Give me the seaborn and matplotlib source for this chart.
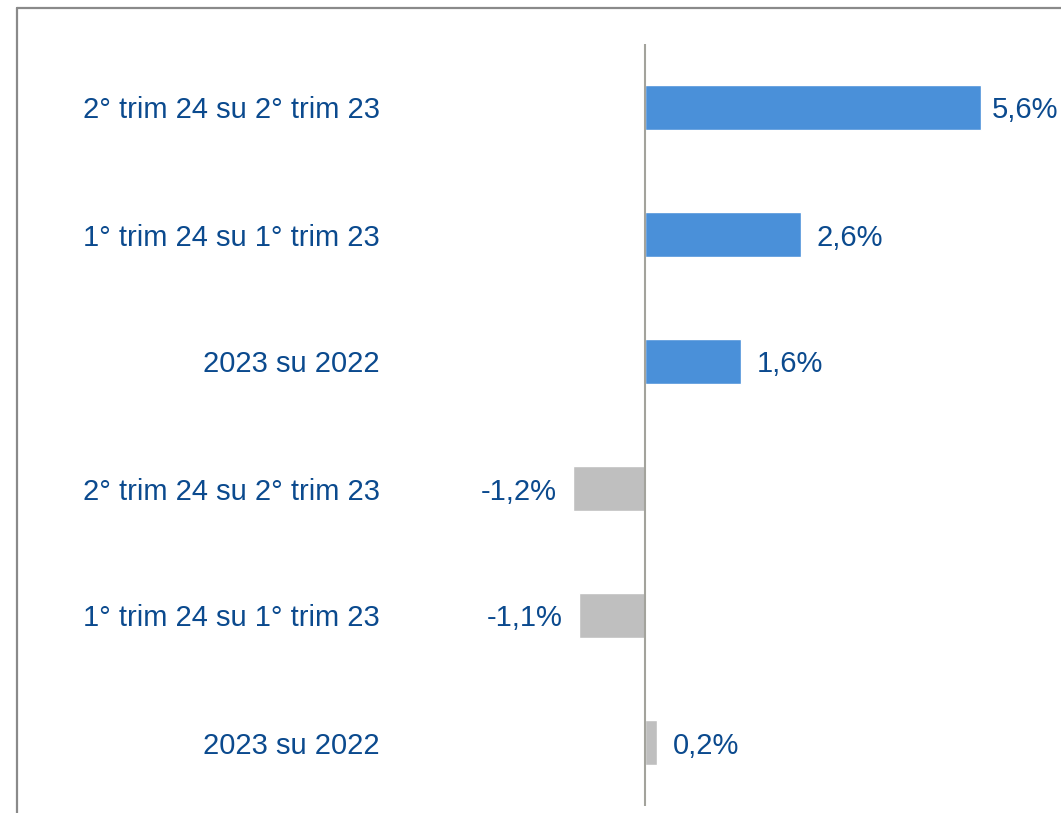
import matplotlib
matplotlib.use("Agg")
import matplotlib.pyplot as plt
from matplotlib.lines import Line2D
import seaborn as sns
import pandas as pd

# Variazioni percentuali
labels = ["2° trim 24 su 2° trim 23", "1° trim 24 su 1° trim 23", "2023 su 2022",
          "2° trim 24 su 2° trim 23", "1° trim 24 su 1° trim 23", "2023 su 2022"]
values = [5.6, 2.6, 1.6, -1.2, -1.1, 0.2]
groups = ["a", "a", "a", "b", "b", "b"]
value_text = ["5,6%", "2,6%", "1,6%", "-1,2%", "-1,1%", "0,2%"]

palette = {"a": "#4a90d9", "b": "#bfbfbf"}
text_color = "#0b4a8e"
fs = 21

sns.set_theme(style="white")
plt.rcParams["font.family"] = ["Liberation Sans", "DejaVu Sans"]

W, H = 1061, 813
fig = plt.figure(figsize=(W / 100, H / 100), dpi=100)
fig.patch.set_facecolor("white")

# axes placed in pixel units: x 400..1061, y 44..806 (from top); zero at x=645
ax = fig.add_axes([400 / W, 1 - 806 / H, (W - 400) / W, 762 / H])

df = pd.DataFrame({"row": [str(i) for i in range(len(values))],
                   "value": values, "group": groups})
sns.barplot(data=df, x="value", y="row", hue="group", palette=palette,
            dodge=False, width=0.36, legend=False, ax=ax, saturation=1)

ax.set_xlim(-245 / 60, (W - 645) / 60)
ax.set_ylim(5.5, -0.5)
ax.axvline(0, color="#a3a39c", lw=1.5, zorder=3)

for s in ax.spines.values():
    s.set_visible(False)
ax.set_xticks([])
ax.set_xlabel("")
ax.set_ylabel("")
ax.set_yticks(range(len(labels)))
ax.set_yticklabels(labels, fontsize=fs, color=text_color)
ax.tick_params(axis="y", length=0, pad=14.5)

for i, (v, t) in enumerate(zip(values, value_text)):
    if v >= 0:
        off = 7.5 if v > 5 else 11.5
        ax.annotate(t, (v, i), xytext=(off, 0), textcoords="offset points",
                    ha="left", va="center_baseline", fontsize=fs, color=text_color)
    else:
        ax.annotate(t, (v, i), xytext=(-11.5, 0), textcoords="offset points",
                    ha="right", va="center_baseline", fontsize=fs, color=text_color)

# outer frame (left and top edges)
fig.add_artist(Line2D([17 / W, 17 / W], [0, 1 - 8.5 / H], color="#8a8a8a",
                      lw=1.6, transform=fig.transFigure))
fig.add_artist(Line2D([17 / W, 1], [1 - 8.5 / H, 1 - 8.5 / H], color="#8a8a8a",
                      lw=1.6, transform=fig.transFigure))

fig.savefig("out.png", dpi=100)
